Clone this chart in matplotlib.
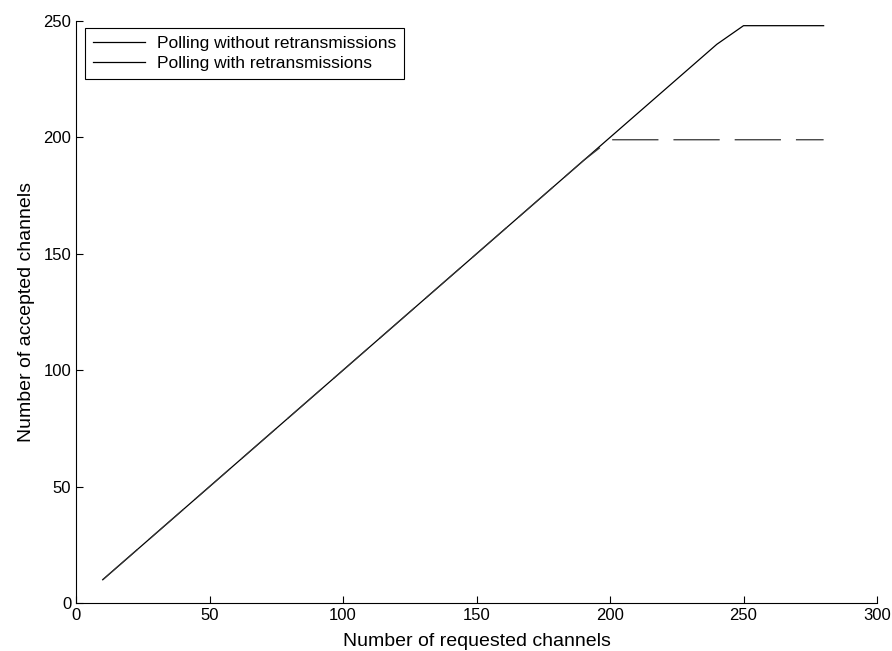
import numpy as np
import matplotlib.pyplot as plt

plt.rcParams['font.family'] = ['Liberation Sans', 'DejaVu Sans']

# requested channels (x) and accepted channels (y)
requested = [10, 20, 30, 40, 50, 60, 70, 80, 90, 100, 110, 120, 130, 140,
             150, 160, 170, 180, 190, 200, 210, 220, 230, 240, 250, 260, 270, 280]
accepted_no_retx = [10, 20, 30, 40, 50, 60, 70, 80, 90, 100, 110, 120, 130, 140,
                    150, 160, 170, 180, 190, 200, 210, 220, 230, 240, 248, 248, 248, 248]
accepted_retx = [10, 20, 30, 40, 50, 60, 70, 80, 90, 100, 110, 120, 130, 140,
                 150, 160, 170, 180, 190, 199, 199, 199, 199, 199, 199, 199, 199, 199]

legend_labels = ['Polling without retransmissions', 'Polling with retransmissions']

fig = plt.figure(figsize=(8.92, 6.51), dpi=100)
ax = fig.add_axes([0.0852, 0.0737, 0.898, 0.894])

ax.plot(requested, accepted_no_retx, color='black', lw=0.9)
ax.plot(requested, accepted_retx, color='#333333', lw=0.9, dashes=(37, 12))

# legend shows both entries with solid lines
h1, = ax.plot([], [], color='black', lw=0.9)
h2, = ax.plot([], [], color='black', lw=0.9)
leg = ax.legend([h1, h2], legend_labels, loc='upper left', fontsize=12.5,
                fancybox=False, framealpha=1, edgecolor='black',
                borderaxespad=0, handlelength=3.0, handletextpad=0.7,
                labelspacing=0.3, borderpad=0.45,
                bbox_to_anchor=(0.011, 0.988))
leg.get_frame().set_linewidth(0.8)

ax.set_xlim(0, 300)
ax.set_ylim(0, 250)
ax.set_xticks(np.arange(0, 301, 50))
ax.set_yticks(np.arange(0, 251, 50))
ax.tick_params(direction='in', length=5, width=0.8, labelsize=12)
ax.spines['top'].set_visible(False)
ax.spines['right'].set_visible(False)
for s in ('left', 'bottom'):
    ax.spines[s].set_linewidth(0.8)

ax.set_xlabel('Number of requested channels', fontsize=14, labelpad=7)
ax.set_ylabel('Number of accepted channels', fontsize=14, labelpad=6)

fig.savefig('out.png', dpi=100)
